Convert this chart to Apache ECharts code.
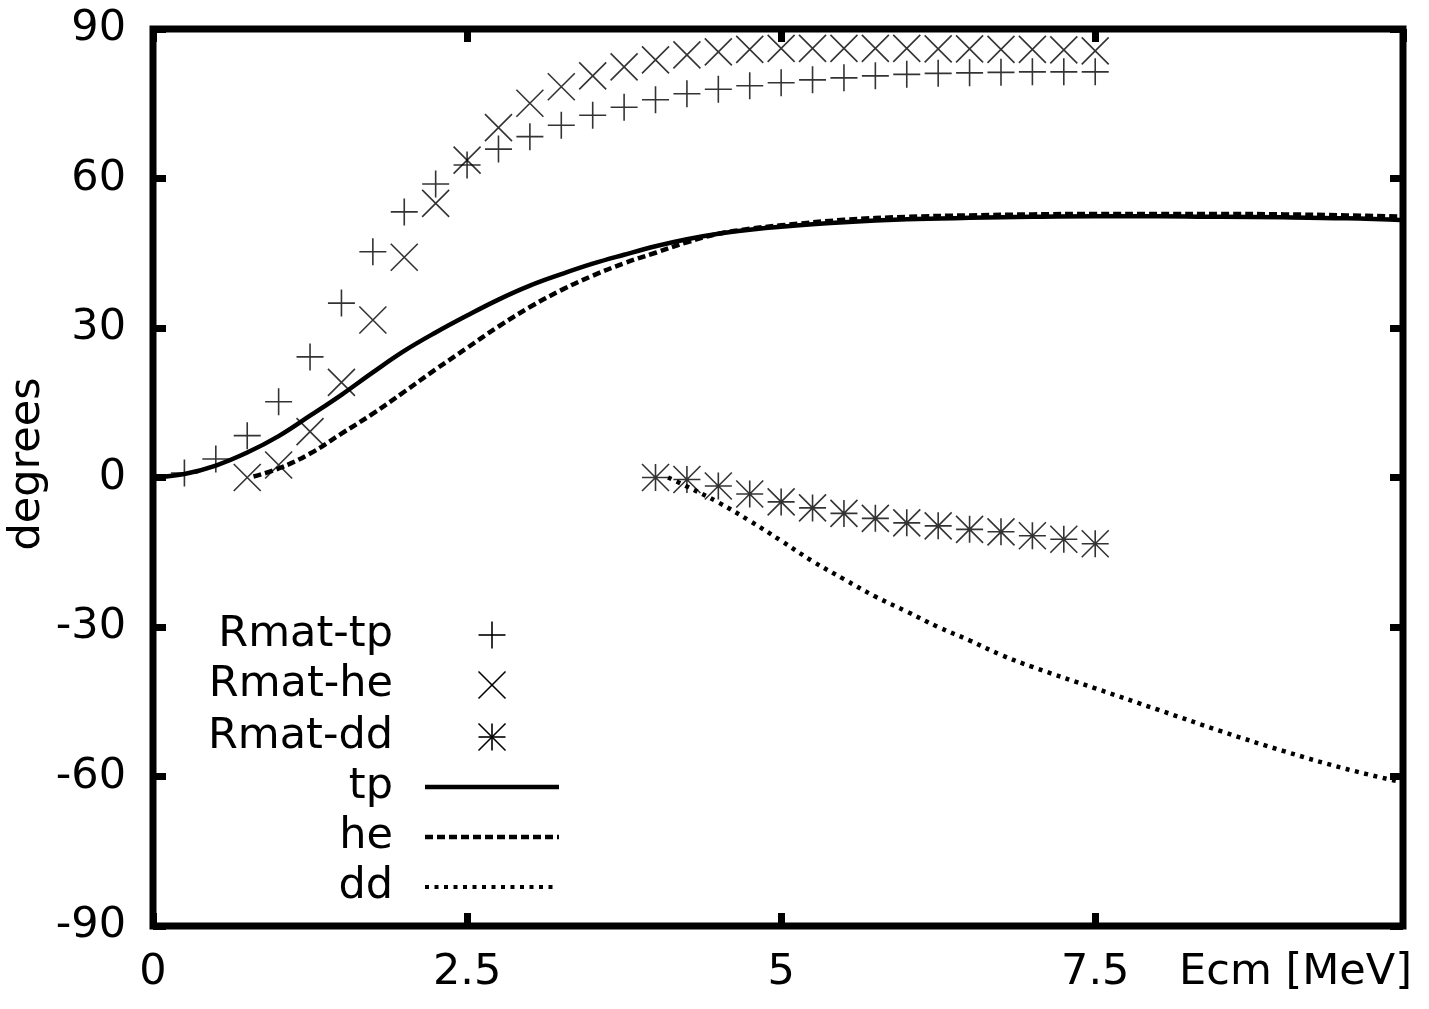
<!DOCTYPE html>
<html>
<head>
<meta charset="utf-8">
<script src="https://cdn.jsdelivr.net/npm/echarts@6/dist/echarts.min.js"></script>
<style>
  html, body { margin: 0; padding: 0; background: #fff; }
  #chart { width: 1429px; height: 1009px; }
</style>
</head>
<body>
<div id="chart"></div>
<script>
// Axis ticks
const xTickValues = [0, 2.5, 5, 7.5];
const xTickLabels = ['0', '2.5', '5', '7.5'];
const yTickValues = [-90, -60, -30, 0, 30, 60, 90];
const yTickLabels = ['-90', '-60', '-30', '0', '30', '60', '90'];

// R-matrix phase shifts (degrees) vs. centre-of-mass energy (MeV)
const rmatTpE = [0.25, 0.5, 0.75, 1, 1.25, 1.5, 1.75, 2, 2.25, 2.5, 2.75, 3, 3.25, 3.5, 3.75,
                 4, 4.25, 4.5, 4.75, 5, 5.25, 5.5, 5.75, 6, 6.25, 6.5, 6.75, 7, 7.25, 7.5];
const rmatTpDeg = [0.9, 3.7, 8.4, 15.2, 24.2, 35.0, 45.3, 53.3, 58.9, 62.7, 65.9, 68.4, 70.7, 72.7, 74.3,
                   75.8, 77.0, 77.9, 78.6, 79.2, 79.8, 80.2, 80.6, 80.9, 81.1, 81.2, 81.3, 81.4, 81.4, 81.4];

const rmatHeE = [0.75, 1, 1.25, 1.5, 1.75, 2, 2.25, 2.5, 2.75, 3, 3.25, 3.5, 3.75,
                 4, 4.25, 4.5, 4.75, 5, 5.25, 5.5, 5.75, 6, 6.25, 6.5, 6.75, 7, 7.25, 7.5];
const rmatHeDeg = [0.0, 2.5, 9.2, 19.1, 31.6, 44.2, 55.0, 63.7, 70.2, 75.1, 78.4, 80.6, 82.4,
                   83.8, 84.8, 85.4, 85.9, 86.1, 86.1, 86.1, 86.1, 86.1, 86.0, 86.0, 85.9, 85.9, 85.8, 85.6];

const rmatDdE = [4, 4.25, 4.5, 4.75, 5, 5.25, 5.5, 5.75, 6, 6.25, 6.5, 6.75, 7, 7.25, 7.5];
const rmatDdDeg = [0.0, -0.4, -1.7, -3.3, -4.9, -6.1, -7.2, -8.2, -9.1, -9.7, -10.4, -10.9, -11.7, -12.4, -13.3];

// Model phase shifts
const tpE = [0, 0.25, 0.5, 0.75, 1, 1.25, 1.5, 1.75, 2, 2.25, 2.5, 2.75, 3, 3.25, 3.5, 3.75,
             4, 4.25, 4.5, 4.75, 5, 5.5, 6, 6.5, 7, 7.5, 8, 8.5, 9, 9.5, 10];
const tpDeg = [0, 0.7, 2.4, 5.0, 8.3, 12.4, 16.6, 21.1, 25.4, 29.1, 32.5, 35.7, 38.5, 40.8, 42.9, 44.7,
               46.4, 47.8, 48.9, 49.7, 50.3, 51.2, 51.8, 52.1, 52.3, 52.4, 52.4, 52.3, 52.2, 52.0, 51.6];

const heE = [0.8, 1, 1.25, 1.5, 1.75, 2, 2.25, 2.5, 2.75, 3, 3.25, 3.5, 3.75,
             4, 4.25, 4.5, 4.75, 5, 5.5, 6, 6.5, 7, 7.5, 8, 8.5, 9, 9.5, 10];
const heDeg = [0.2, 1.8, 4.8, 8.8, 12.8, 17.2, 21.7, 26.0, 30.3, 34.2, 37.6, 40.5, 43.0,
               45.1, 47.2, 48.9, 49.9, 50.6, 51.7, 52.3, 52.6, 52.8, 52.9, 52.9, 52.9, 52.8, 52.6, 52.3];

const ddE = [4.1, 4.25, 4.5, 4.75, 5, 5.25, 5.5, 5.75, 6, 6.25, 6.5, 6.75, 7, 7.5, 8, 8.5, 9, 9.5, 10];
const ddDeg = [0, -1.8, -5.0, -8.7, -12.7, -16.8, -20.4, -23.9, -26.9, -30.0, -32.7, -35.6,
               -38.0, -42.3, -46.6, -50.9, -54.9, -58.5, -61.5];

const FONT = 'DejaVu Sans';
const FS = 43;

const zip = (xs, ys) => xs.map((x, i) => [x, ys[i]]);

// gnuplot-style point glyphs
const PLUS = 'path://M0,13.5L27,13.5M13.5,0L13.5,27';
const CROSS = 'path://M0,0L27,27M27,0L0,27';
const STAR = 'path://M0,13.5L27,13.5M13.5,0L13.5,27M0,0L27,27M27,0L0,27';

const pointStyle = { color: 'none', borderColor: '#000', borderWidth: 1.6 };

function scatter(name, symbol, xs, ys) {
  return {
    name, type: 'scatter', symbol, symbolSize: 27,
    itemStyle: pointStyle, data: zip(xs, ys), z: 3,
    emphasis: { disabled: true }
  };
}
function curve(name, xs, ys, dash) {
  return {
    name, type: 'line', showSymbol: false, smooth: 0.4,
    lineStyle: { color: '#000', width: 4.5, type: dash, cap: 'butt', join: 'round' },
    data: zip(xs, ys), z: 2, clip: true,
    emphasis: { disabled: true }
  };
}

const tickStyle = { show: true, inside: true, length: 13, lineStyle: { color: '#000', width: 7 } };
const noLine = { show: false, onZero: false };
const xFmt = v => { const i = xTickValues.indexOf(v); return i < 0 ? '' : xTickLabels[i]; };
const yFmt = v => { const i = yTickValues.indexOf(v); return i < 0 ? '' : yTickLabels[i]; };

// Key, drawn gnuplot-style: right-aligned titles with samples on the right
const keyRows = [
  { label: 'Rmat-tp', y: 635, kind: 'plus' },
  { label: 'Rmat-he', y: 685, kind: 'cross' },
  { label: 'Rmat-dd', y: 737, kind: 'star' },
  { label: 'tp', y: 787, kind: 'solid' },
  { label: 'he', y: 837, kind: 'dashed' },
  { label: 'dd', y: 887, kind: 'dotted' }
];
const keyElems = [];
const seg = (x1, y1, x2, y2, style) => ({ type: 'line', shape: { x1, y1, x2, y2 }, style });
keyRows.forEach(r => {
  keyElems.push({ type: 'text', style: { text: r.label, x: 393, y: r.y, align: 'right', verticalAlign: 'middle',
    font: FS + 'px "' + FONT + '"', fill: '#000' } });
  const cx = 492, h = 13.5, ps = { stroke: '#000', lineWidth: 1.6 };
  if (r.kind === 'plus' || r.kind === 'star') {
    keyElems.push(seg(cx - h, r.y, cx + h, r.y, ps), seg(cx, r.y - h, cx, r.y + h, ps));
  }
  if (r.kind === 'cross' || r.kind === 'star') {
    keyElems.push(seg(cx - h, r.y - h, cx + h, r.y + h, ps), seg(cx + h, r.y - h, cx - h, r.y + h, ps));
  }
  if (r.kind === 'solid') keyElems.push(seg(425, r.y, 559, r.y, { stroke: '#000', lineWidth: 4.5 }));
  if (r.kind === 'dashed') keyElems.push(seg(425, r.y, 559, r.y, { stroke: '#000', lineWidth: 4.5, lineDash: [8, 4] }));
  if (r.kind === 'dotted') keyElems.push(seg(425, r.y, 555, r.y, { stroke: '#000', lineWidth: 4, lineDash: [4, 5.5] }));
});

const chart = echarts.init(document.getElementById('chart'), null, { renderer: 'canvas' });
chart.setOption({
  animation: false,
  backgroundColor: '#fff',
  grid: { left: 153, top: 29, width: 1250, height: 897, show: true, borderWidth: 7, borderColor: '#000',
          backgroundColor: 'transparent', containLabel: false },
  xAxis: [
    { type: 'value', min: 0, max: 9.95, interval: 2.5, position: 'bottom',
      axisLine: noLine, axisTick: tickStyle, splitLine: { show: false },
      axisLabel: { formatter: xFmt, margin: 47, verticalAlign: 'middle', showMaxLabel: false,
                   fontFamily: FONT, fontSize: FS, color: '#000' } },
    { type: 'value', min: 0, max: 9.95, interval: 2.5, position: 'top',
      axisLine: noLine, axisTick: tickStyle, splitLine: { show: false }, axisLabel: { show: false } }
  ],
  yAxis: [
    { type: 'value', min: -90, max: 90, interval: 30, position: 'left',
      axisLine: noLine, axisTick: tickStyle, splitLine: { show: false },
      axisLabel: { formatter: yFmt, margin: 27, fontFamily: FONT, fontSize: FS, color: '#000' } },
    { type: 'value', min: -90, max: 90, interval: 30, position: 'right',
      axisLine: noLine, axisTick: tickStyle, splitLine: { show: false }, axisLabel: { show: false } }
  ],
  series: [
    scatter('Rmat-tp', PLUS, rmatTpE, rmatTpDeg),
    scatter('Rmat-he', CROSS, rmatHeE, rmatHeDeg),
    scatter('Rmat-dd', STAR, rmatDdE, rmatDdDeg),
    curve('tp', tpE, tpDeg, 'solid'),
    curve('he', heE, heDeg, [8, 4]),
    curve('dd', ddE, ddDeg, [4, 5.5])
  ],
  graphic: [
    { type: 'text', rotation: Math.PI / 2, x: 28, y: 464,
      style: { text: 'degrees', align: 'center', verticalAlign: 'middle', font: FS + 'px "' + FONT + '"', fill: '#000' } },
    { type: 'text', style: { text: 'Ecm [MeV]', x: 1412, y: 973, align: 'right', verticalAlign: 'middle',
      font: FS + 'px "' + FONT + '"', fill: '#000' } },
    { type: 'group', children: keyElems }
  ]
});
</script>
</body>
</html>
